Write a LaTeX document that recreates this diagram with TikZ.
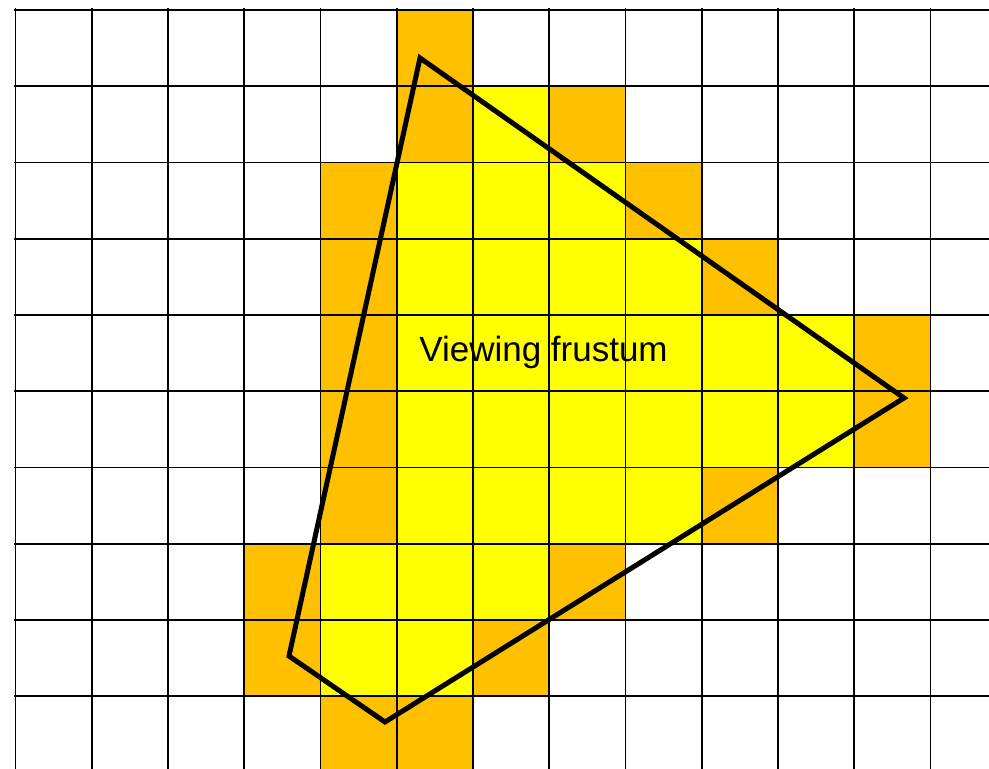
\documentclass[tikz,border=0pt]{standalone}
\usepackage{fontspec}
\setmainfont{Liberation Sans}
\definecolor{cellorange}{HTML}{FFC000}
\definecolor{cellyellow}{HTML}{FFFF00}
\begin{document}
\begin{tikzpicture}[x=1pt,y=-1pt,
  gridline/.style={black, line width=1.8pt},
  orangecell/.style={fill=cellorange},
  yellowcell/.style={fill=cellyellow},
  frustum/.style={black, line width=5pt, line join=miter},
  labeltext/.style={font=\fontsize{35}{42}\selectfont, inner sep=0pt, anchor=base}]
\useasboundingbox (0,0) rectangle (989,769);
\fill[white] (0,0) rectangle (989,769);
\clip (0,0) rectangle (989,769);
\begin{scope}[shift={(15.5pt,-10pt)}, x=76.25pt, y=-76.25pt]
  \foreach \c/\r in {5/0,5/1,7/1,4/2,8/2,4/3,9/3,4/4,11/4,4/5,11/5,4/6,9/6,3/7,7/7,3/8,6/8,4/9,5/9}
    \fill[orangecell] (\c,\r) rectangle ++(1,1);
  \foreach \c/\r in {6/1,5/2,6/2,7/2,5/3,6/3,7/3,8/3,5/4,6/4,7/4,8/4,9/4,10/4,5/5,6/5,7/5,8/5,9/5,10/5,5/6,6/6,7/6,8/6,4/7,5/7,6/7,4/8,5/8}
    \fill[yellowcell] (\c,\r) rectangle ++(1,1);
  \foreach \i in {0,...,13}
    \draw[gridline] (\i,-0.02) -- (\i,10.2);
  \foreach \j in {0,...,10}
    \draw[gridline] (-0.02,\j) -- (14,\j);
\end{scope}
\draw[frustum] (420,58) -- (904,398) -- (385,722) -- (289,656) -- cycle;
\node[labeltext] (label) at (543.5,361.7) {Viewing frustum};
\end{tikzpicture}
\end{document}
